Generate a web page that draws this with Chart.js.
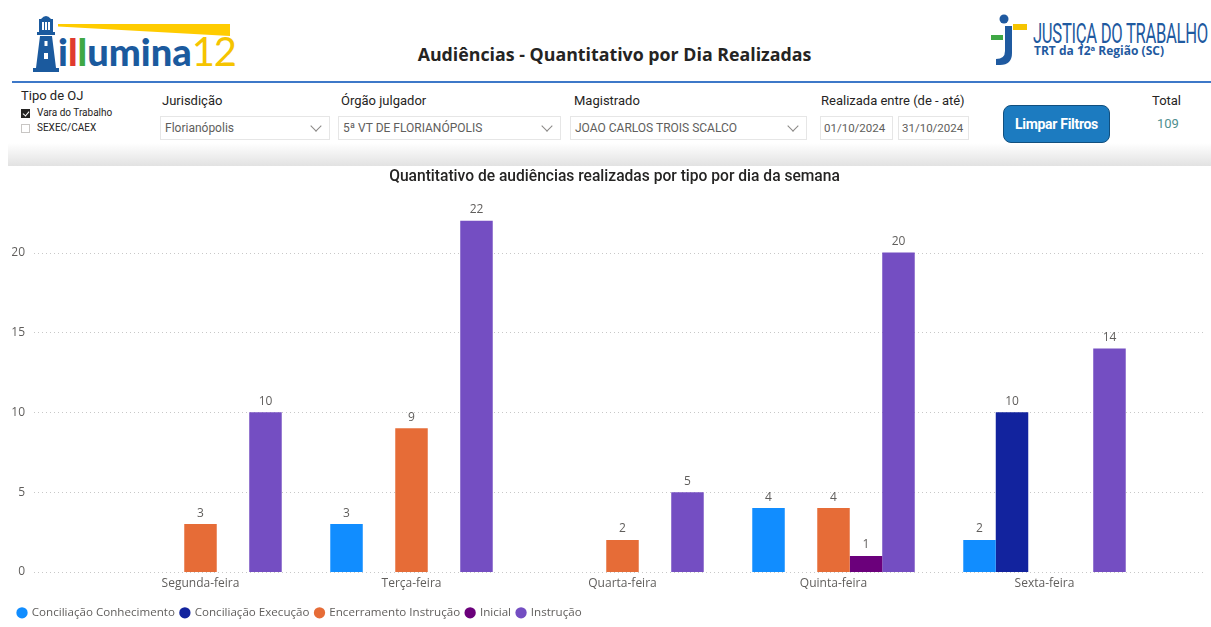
<!DOCTYPE html>
<html lang="pt-BR">
<head>
<meta charset="utf-8">
<title>Audiências - Quantitativo por Dia Realizadas</title>
<script src="https://cdn.jsdelivr.net/npm/chart.js@4.4.1/dist/chart.umd.min.js"></script>
<style>
  html, body { margin: 0; padding: 0; background: #fff; }
  body { width: 1211px; height: 627px; position: relative; overflow: hidden; font-family: "Open Sans", sans-serif; }
  .abs { position: absolute; }
  #logo-text { left: 58px; top: 29px; font-family: Lato, sans-serif; font-weight: 900; font-size: 38px; color: #1b5a9e; letter-spacing: 0; line-height: 44px; }
  #logo-text .r { color: #e03a2f; }
  #logo-text .g { color: #3fa845; }
  #logo-text .y { color: #f5c400; font-weight: 400; font-size: 40px; letter-spacing: -1px; }
  #wedge { left: 58px; top: 24px; width: 172px; height: 12px; background: #ffcc00; clip-path: polygon(0 0, 100% 0, 100% 100%, 0 20%); }
  #page-title { left: 0; width: 1229px; top: 42px; text-align: center; font-family: "Open Sans", sans-serif; font-weight: 700; font-size: 17.8px; color: #252423; }
  #jt-title { left: 1033px; top: 18px; font-family: Roboto, sans-serif; font-size: 27px; color: #1f5aa0; transform-origin: left top; white-space: nowrap; letter-spacing: -0.5px; }
  #jt-sub { left: 1034px; top: 42px; font-family: "Open Sans", sans-serif; font-weight: 700; font-size: 12px; color: #1f5aa0; white-space: nowrap; }
  #topline { left: 12px; top: 81px; width: 1199px; height: 2px; background: #3d78c8; }
  #filters { left: 8px; top: 84px; width: 1203px; height: 82px; background: linear-gradient(to bottom, #fff 0%, #fff 72%, #e2e2e2 100%); }
  .lbl { font-family: Roboto, sans-serif; font-size: 13px; color: #252423; white-space: nowrap; }
  .small { font-family: Roboto, sans-serif; font-size: 10px; color: #252423; white-space: nowrap; }
  .box { border: 1px solid #e6e6e6; background: #fff; height: 24px; box-sizing: border-box; font-family: Roboto, sans-serif; font-size: 12px; color: #605e5c; line-height: 23px; padding-left: 4px; white-space: nowrap; overflow: hidden; }
  .chev { position: absolute; right: 9px; top: 5px; width: 7px; height: 7px; border-right: 1px solid #8a8886; border-bottom: 1px solid #8a8886; transform: rotate(45deg); }
  .cb { width: 9px; height: 9px; box-sizing: border-box; }
  #btn { left: 1003px; top: 105px; width: 107px; height: 38px; box-sizing: border-box; background: #1c7bc0; border: 1px solid #114f7e; border-radius: 8px; color: #fff; font-family: Roboto, sans-serif; font-weight: 700; font-size: 14px; line-height: 36px; text-align: center; letter-spacing: -0.3px; }
  #chart-wrap { left: 0; top: 160px; width: 1211px; height: 467px; }
  #chart { display: block; }
</style>
</head>
<body>
<!-- cabeçalho -->
<svg class="abs" style="left:31px;top:13px" width="30" height="62" viewBox="0 0 30 62">
  <g fill="#1b5a9e">
    <path d="M10 6 Q15 0 20 6 Z"/>
    <rect x="8" y="6" width="14" height="13"/>
    <rect x="6" y="19" width="18" height="3"/>
    <path d="M9 23 L21 23 L25 55 L5 55 Z"/>
    <rect x="2" y="55" width="26" height="4"/>
  </g>
  <g fill="#fff">
    <rect x="11" y="9" width="2" height="8"/><rect x="14" y="9" width="2" height="8"/><rect x="17" y="9" width="2" height="8"/>
    <rect x="13.5" y="28" width="3" height="5"/><rect x="13" y="40" width="4" height="6"/>
  </g>
</svg>
<div id="wedge" class="abs"></div>
<div id="logo-text" class="abs">i<span class="r">l</span><span class="g">l</span>umina<span class="y">12</span></div>

<div id="page-title" class="abs">Audiências - Quantitativo por Dia Realizadas</div>

<svg class="abs" style="left:989px;top:13px" width="40" height="54" viewBox="0 0 40 54">
  <circle cx="15" cy="6" r="4.5" fill="#1f5aa0"/>
  <rect x="24" y="11" width="14" height="6" fill="#f5c400"/>
  <rect x="2" y="22" width="12" height="5" fill="#3fa845"/>
  <path d="M16 13 L23 13 L23 40 Q23 52 11 52 L7 52 L7 46 Q16 46 16 38 Z" fill="#1f5aa0"/>
</svg>
<div id="jt-title" class="abs">JUSTIÇA DO TRABALHO</div>
<div id="jt-sub" class="abs">TRT da 12ª Região (SC)</div>
<div id="topline" class="abs"></div>

<!-- filtros -->
<div id="filters" class="abs"></div>
<div class="abs lbl" style="left:21px;top:88px">Tipo de OJ</div>
<div class="abs cb" style="left:21px;top:109px;background:#252423"></div>
<div class="abs" style="left:23.5px;top:110px;width:3px;height:5px;border-right:1.3px solid #fff;border-bottom:1.3px solid #fff;transform:rotate(40deg)"></div>
<div class="abs small" style="left:37px;top:107px">Vara do Trabalho</div>
<div class="abs cb" style="left:21px;top:124px;border:1px solid #c8c6c4"></div>
<div class="abs small" style="left:37px;top:122px">SEXEC/CAEX</div>

<div class="abs lbl" style="left:162px;top:93px">Jurisdição</div>
<div class="abs box" style="left:160px;top:116px;width:170px">Florianópolis<span class="chev"></span></div>
<div class="abs lbl" style="left:341px;top:93px">Órgão julgador</div>
<div class="abs box" style="left:338px;top:116px;width:223px">5ª VT DE FLORIANÓPOLIS<span class="chev"></span></div>
<div class="abs lbl" style="left:574px;top:93px">Magistrado</div>
<div class="abs box" style="left:570px;top:116px;width:237px">JOAO CARLOS TROIS SCALCO<span class="chev"></span></div>
<div class="abs lbl" style="left:821px;top:93px">Realizada entre (de - até)</div>
<div class="abs box" style="left:820px;top:116px;width:73px;padding-left:3px;font-size:11.5px">01/10/2024</div>
<div class="abs box" style="left:898px;top:116px;width:71px;padding-left:3px;font-size:11.5px">31/10/2024</div>
<div id="btn" class="abs">Limpar Filtros</div>
<div class="abs lbl" style="left:1152px;top:93px">Total</div>
<div class="abs" style="left:1157px;top:116px;font-family:Roboto,sans-serif;font-size:13px;color:#4f8f8f">109</div>

<div id="chart-wrap" class="abs"><canvas id="chart" width="1211" height="467"></canvas></div>

<script>
const dias = ["Segunda-feira", "Terça-feira", "Quarta-feira", "Quinta-feira", "Sexta-feira"];
const conciliacaoConhecimento = [null, 3, null, 4, 2];
const conciliacaoExecucao = [null, null, null, null, 10];
const encerramentoInstrucao = [3, 9, 2, 4, null];
const inicial = [null, null, null, 1, null];
const instrucao = [10, 22, 5, 20, 14];
const yTicks = [0, 5, 10, 15, 20];

const textColor = "#605E5C";
const visualFont = "'Segoe UI', 'Open Sans', sans-serif";

// encaixa o titulo condensado da JT na largura do logo
const jt = document.getElementById("jt-title");
jt.style.transform = "scaleX(" + (175 / jt.offsetWidth) + ")";

// linhas pontilhadas do eixo y, mais largas que a area do grafico (como no Power BI)
const dottedGrid = {
  id: "dottedGrid",
  beforeDatasetsDraw(chart) {
    const { ctx } = chart;
    const y = chart.scales.y;
    ctx.save();
    ctx.strokeStyle = "#c8c8c8";
    ctx.lineWidth = 1;
    ctx.setLineDash([1, 3]);
    for (const t of y.ticks) {
      const py = Math.round(y.getPixelForValue(t.value)) + 0.5;
      ctx.beginPath();
      ctx.moveTo(34, py);
      ctx.lineTo(1206, py);
      ctx.stroke();
    }
    ctx.restore();
  },
};

// titulo centrado na largura toda do visual, nao so na area com padding
const titleCenter = {
  id: "titleCenter",
  afterLayout(chart) {
    chart.titleBlock.left = 18;
    chart.titleBlock.right = 1211;
  },
};

// rotulos de dados em cima das barras
const barLabels = {
  id: "barLabels",
  afterDatasetsDraw(chart) {
    const { ctx } = chart;
    ctx.save();
    ctx.font = "12px " + visualFont;
    ctx.fillStyle = textColor;
    ctx.textAlign = "center";
    ctx.textBaseline = "bottom";
    chart.data.datasets.forEach((ds, i) => {
      const meta = chart.getDatasetMeta(i);
      meta.data.forEach((bar, j) => {
        const v = ds.data[j];
        if (v === null || v === undefined) return;
        ctx.fillText(String(v), bar.x, bar.y - 5);
      });
    });
    ctx.restore();
  },
};

new Chart(document.getElementById("chart"), {
  type: "bar",
  data: {
    labels: dias,
    datasets: [
      { label: "Conciliação Conhecimento", data: conciliacaoConhecimento, backgroundColor: "#118DFF" },
      { label: "Conciliação Execução", data: conciliacaoExecucao, backgroundColor: "#12239E" },
      { label: "Encerramento Instrução", data: encerramentoInstrucao, backgroundColor: "#E66C37" },
      { label: "Inicial", data: inicial, backgroundColor: "#6B007B" },
      { label: "Instrução", data: instrucao, backgroundColor: "#744EC2" },
    ],
  },
  options: {
    responsive: false,
    animation: false,
    datasets: {
      bar: { barPercentage: 1, categoryPercentage: 0.77 },
    },
    layout: { padding: { left: 12, right: 61, top: 0, bottom: 2 } },
    plugins: {
      title: {
        display: true,
        text: "Quantitativo de audiências realizadas por tipo por dia da semana",
        font: { family: "Roboto, sans-serif", size: 15.6, weight: "500" },
        color: "#252423",
        padding: { top: 8, bottom: 10 },
      },
      legend: {
        position: "bottom",
        align: "start",
        maxHeight: 24,
        labels: {
          usePointStyle: true,
          pointStyle: "circle",
          boxWidth: 8,
          boxHeight: 8,
          padding: 6,
          color: textColor,
          font: { family: visualFont, size: 11.6 },
        },
      },
      tooltip: { enabled: false },
    },
    scales: {
      x: {
        grid: { display: false, drawTicks: false },
        border: { display: false },
        ticks: { color: textColor, font: { family: visualFont, size: 12 }, padding: 4 },
        afterFit(scale) { scale.height = 29; },
      },
      y: {
        min: 0,
        max: 23.5,
        grid: { display: false, drawTicks: false },
        border: { display: false },
        ticks: { color: textColor, font: { family: visualFont, size: 12 }, padding: 70 },
        afterBuildTicks(scale) { scale.ticks = yTicks.map((v) => ({ value: v })); },
        afterFit(scale) {
          scale.width = 83;
          // o padding grande dos rotulos nao deve empurrar a area do grafico
          scale.paddingTop = 0;
          scale.paddingBottom = 0;
        },
      },
    },
  },
  plugins: [dottedGrid, titleCenter, barLabels],
});
</script>
</body>
</html>
